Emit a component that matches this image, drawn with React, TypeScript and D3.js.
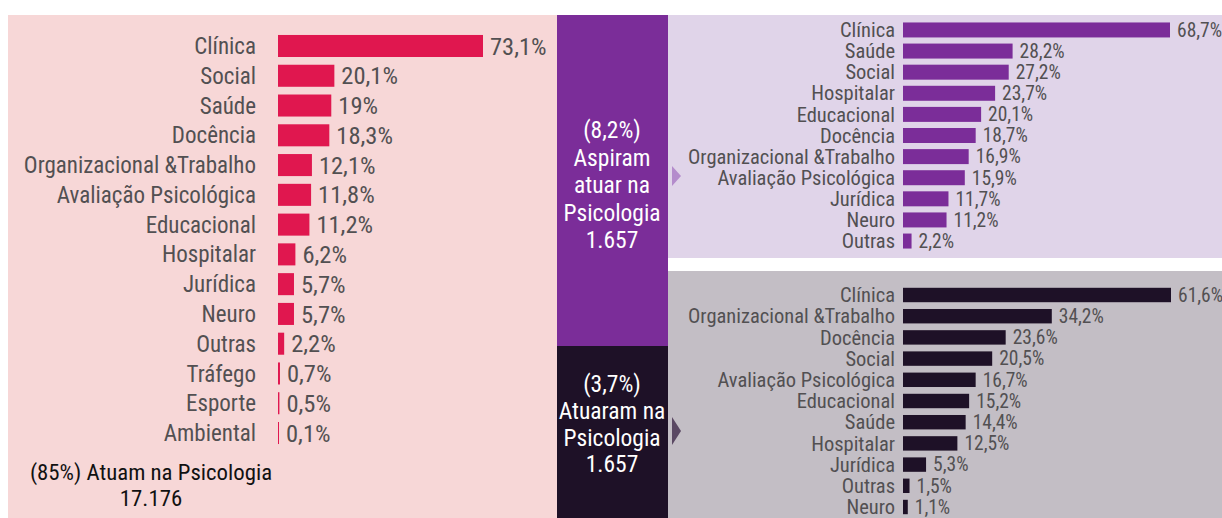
import React from "react";
import * as d3 from "d3";

const leftCategories = ["Clínica","Social","Saúde","Docência","Organizacional &Trabalho","Avaliação Psicológica","Educacional","Hospitalar","Jurídica","Neuro","Outras","Tráfego","Esporte","Ambiental"];
const leftValues = [73.1,20.1,19,18.3,12.1,11.8,11.2,6.2,5.7,5.7,2.2,0.7,0.5,0.1];
const leftLabels = ["73,1%","20,1%","19%","18,3%","12,1%","11,8%","11,2%","6,2%","5,7%","5,7%","2,2%","0,7%","0,5%","0,1%"];

const aspCategories = ["Clínica","Saúde","Social","Hospitalar","Educacional","Docência","Organizacional &Trabalho","Avaliação Psicológica","Jurídica","Neuro","Outras"];
const aspValues = [68.7,28.2,27.2,23.7,20.1,18.7,16.9,15.9,11.7,11.2,2.2];
const aspLabels = ["68,7%","28,2%","27,2%","23,7%","20,1%","18,7%","16,9%","15,9%","11,7%","11,2%","2,2%"];

const atuCategories = ["Clínica","Organizacional &Trabalho","Docência","Social","Avaliação Psicológica","Educacional","Saúde","Hospitalar","Jurídica","Outras","Neuro"];
const atuValues = [61.6,34.2,23.6,20.5,16.7,15.2,14.4,12.5,5.3,1.5,1.1];
const atuLabels = ["61,6%","34,2%","23,6%","20,5%","16,7%","15,2%","14,4%","12,5%","5,3%","1,5%","1,1%"];

const leftCaption = ["(85%) Atuam na Psicologia", "17.176"];
const aspCaption = ["(8,2%)", "Aspiram", "atuar na", "Psicologia", "1.657"];
const atuCaption = ["(3,7%)", "Atuaram na", "Psicologia", "1.657"];

const FONT = "'Roboto Condensed', 'Liberation Sans Narrow', 'Arial Narrow', Roboto, sans-serif";

type BarsProps = {
  cats: string[]; vals: number[]; labels: string[];
  x0: number; x1: number; y0: number; y1: number; pad: number;
  color: string; fs: number; vfs: number; labelGap: number; valGap: number;
};

function Bars({ cats, vals, labels, x0, x1, y0, y1, pad, color, fs, vfs, labelGap, valGap }: BarsProps) {
  const y = d3.scaleBand<string>().domain(cats).range([y0, y1]).paddingInner(pad).paddingOuter(pad / 2);
  const x = d3.scaleLinear().domain([0, d3.max(vals) as number]).range([x0, x1]);
  return (
    <g>
      {cats.map((c, i) => {
        const yy = y(c) as number;
        const cy = yy + y.bandwidth() / 2;
        const w = Math.max(x(vals[i]) - x0, 1);
        return (
          <g key={c}>
            <text x={x0 - labelGap} y={cy} dy="0.35em" textAnchor="end" fontSize={fs} fill="#525052" fontFamily={FONT}>{c}</text>
            <rect x={x0} y={yy} width={w} height={y.bandwidth()} fill={color} />
            <text x={x0 + w + valGap} y={cy} dy="0.35em" fontSize={vfs} fill="#525052" fontFamily={FONT}>{labels[i]}</text>
          </g>
        );
      })}
    </g>
  );
}

export default function App() {
  return (
    <svg width={1222} height={518} style={{ position: "absolute", left: 0, top: 0, background: "#ffffff" }}>
      <rect x={8} y={15} width={549} height={503} fill="#f7d7d7" />
      <rect x={557} y={15} width={111} height={331} fill="#7b2d99" />
      <rect x={557} y={346} width={111} height={172} fill="#1e1127" />
      <rect x={668} y={15} width={554} height={243} fill="#e0d4e9" />
      <rect x={668} y={271} width={554} height={247} fill="#c3bec5" />

      <polygon points="672,166 681,176 672,186" fill="#b48ccc" />
      <polygon points="672,417 681,431 672,445" fill="#5a4863" />

      <Bars cats={leftCategories} vals={leftValues} labels={leftLabels}
        x0={278} x1={483} y0={31.1} y1={447.9} pad={0.26} color="#e0174f"
        fs={23} vfs={24.5} labelGap={22} valGap={7} />
      <Bars cats={aspCategories} vals={aspValues} labels={aspLabels}
        x0={903} x1={1170} y0={19.4} y1={251.6} pad={0.29} color="#7b2d99"
        fs={20.5} vfs={19.5} labelGap={8} valGap={7} />
      <Bars cats={atuCategories} vals={atuValues} labels={atuLabels}
        x0={903} x1={1171} y0={284.4} y1={517.6} pad={0.32} color="#1e1127"
        fs={20.5} vfs={19.5} labelGap={8} valGap={7} />

      {leftCaption.map((t, i) => (
        <text key={t} x={151} y={472 + i * 26} dy="0.35em" textAnchor="middle" fontSize={22.8} fill="#111" fontFamily={FONT}>{t}</text>
      ))}
      {aspCaption.map((t, i) => (
        <text key={t} x={612} y={130 + i * 27.5} dy="0.35em" textAnchor="middle" fontSize={23.5} fill="#ffffff" fontFamily={FONT}>{t}</text>
      ))}
      {atuCaption.map((t, i) => (
        <text key={t} x={612} y={384 + i * 26.7} dy="0.35em" textAnchor="middle" fontSize={23.5} fill="#ffffff" fontFamily={FONT}>{t}</text>
      ))}
    </svg>
  );
}
